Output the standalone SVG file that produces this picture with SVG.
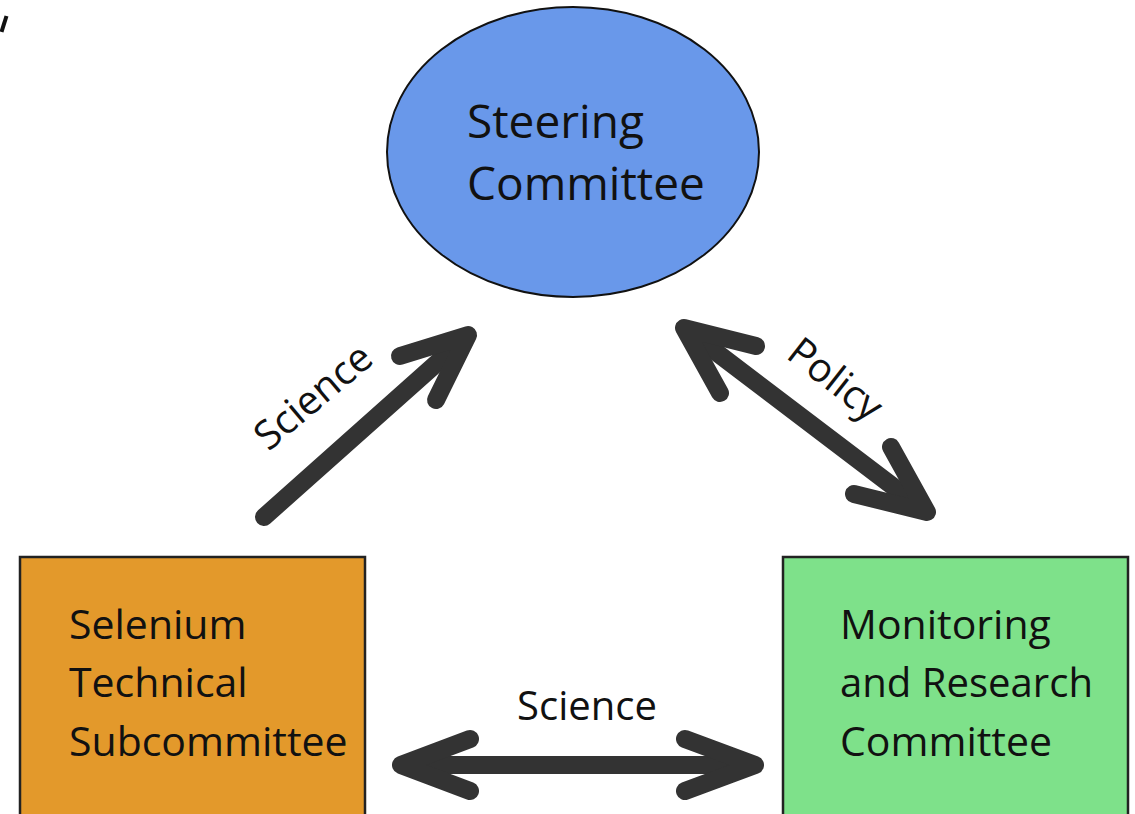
<svg xmlns="http://www.w3.org/2000/svg" width="1135" height="814" viewBox="0 0 1135 814">
<style>
.lbl{font-family:"Open Sans","Liberation Sans",sans-serif;fill:#111;}
.node{font-size:41px;}
.edge{font-size:40px;}
.arr{fill:none;stroke:#333;stroke-width:18;stroke-linecap:round;stroke-linejoin:round;}
</style>
<rect width="1135" height="814" fill="#fff"/>
<line x1="6.5" y1="16" x2="1.5" y2="32" stroke="#111" stroke-width="4"/>
<g id="connectors">
  <g id="e-science-diag">
    <line class="arr" x1="264" y1="517" x2="465" y2="338"/>
    <polyline class="arr" points="400,356 468,335 436,400"/>
    <text class="lbl edge" x="0" y="0" text-anchor="middle" transform="translate(322,407) rotate(-40)">Science</text>
  </g>
  <g id="e-policy">
    <line class="arr" x1="687" y1="330" x2="924" y2="510"/>
    <polyline class="arr" points="756,346 684,328 720,393"/>
    <polyline class="arr" points="891,447 927,512 854,494"/>
    <text class="lbl edge" x="0" y="0" text-anchor="middle" transform="translate(827,390) rotate(38)">Policy</text>
  </g>
  <g id="e-science-bottom">
    <line class="arr" x1="403" y1="765" x2="752" y2="765"/>
    <polyline class="arr" points="470,739 401,765 470,791"/>
    <polyline class="arr" points="685,739 755,765 685,791"/>
    <text class="lbl edge" x="587" y="720" text-anchor="middle">Science</text>
  </g>
</g>
<g id="steering">
  <ellipse cx="573" cy="152" rx="186" ry="145" fill="#6998ea" stroke="#111" stroke-width="2"/>
  <text class="lbl" font-size="46" x="467" y="138">Steering</text>
  <text class="lbl" font-size="46" x="467" y="200">Committee</text>
</g>
<g id="selenium">
  <rect x="20" y="557" width="345" height="270" fill="#e3992b" stroke="#222" stroke-width="2.5"/>
  <text class="lbl node" x="69" y="639">Selenium</text>
  <text class="lbl node" x="69" y="697">Technical</text>
  <text class="lbl node" x="69" y="756">Subcommittee</text>
</g>
<g id="monitoring">
  <rect x="783" y="557" width="345" height="270" fill="#7ee18a" stroke="#222" stroke-width="2.5"/>
  <text class="lbl node" x="840" y="639">Monitoring</text>
  <text class="lbl node" x="840" y="697" textLength="253" lengthAdjust="spacingAndGlyphs">and Research</text>
  <text class="lbl node" x="840" y="756">Committee</text>
</g>
</svg>
